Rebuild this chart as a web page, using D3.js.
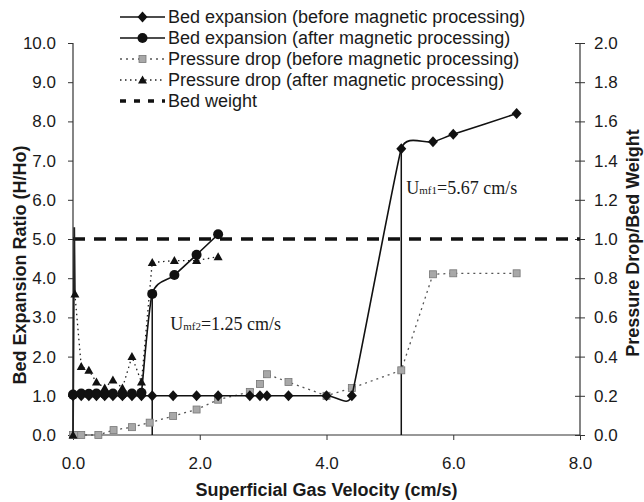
<!DOCTYPE html>
<html><head><meta charset="utf-8">
<script src="https://cdn.jsdelivr.net/npm/d3@7/dist/d3.min.js"></script>
<style>
body{margin:0;background:#fff}
svg text{font-family:Arial,"Liberation Sans",sans-serif;fill:#1a1a1a}
</style>
</head><body>
<svg id="chart" width="644" height="502"></svg>
<script>
// ---- data ----
const xTicks = [0, 2, 4, 6, 8];
const leftTicks = [0,1,2,3,4,5,6,7,8,9,10];
const rightTicks = [0,0.2,0.4,0.6,0.8,1.0,1.2,1.4,1.6,1.8,2.0];

const bedBeforeVel = [0,0.13,0.25,0.37,0.5,0.63,0.78,0.93,1.08,1.25,1.58,1.95,2.29,2.79,2.95,3.06,3.4,4.0,4.4,5.18,5.68,6.0,7.0];
const bedBefore    = [1.0,1.0,1.0,1.0,1.0,1.0,1.0,1.0,1.0,1.0,1.0,1.0,1.0,1.0,1.0,1.0,1.0,1.0,1.0,7.3,7.48,7.67,8.2];

const bedAfterVel = [0,0.13,0.25,0.37,0.5,0.63,0.78,0.93,1.08,1.25,1.6,1.95,2.29];
const bedAfter    = [1.03,1.06,1.05,1.06,1.05,1.06,1.05,1.06,1.08,3.6,4.08,4.6,5.12];

const dpBeforeVel = [0,0.05,0.13,0.4,0.64,0.93,1.21,1.58,1.95,2.29,2.79,2.95,3.06,3.4,4.0,4.4,5.18,5.68,6.0,7.0];
const dpBefore    = [0,0,0,0,0.025,0.04,0.063,0.097,0.13,0.18,0.22,0.26,0.31,0.27,0.2,0.24,0.33,0.82,0.825,0.825];

const dpAfterVel = [0,0.02,0.03,0.13,0.25,0.37,0.5,0.63,0.78,0.93,1.08,1.25,1.6,1.95,2.29];
const dpAfter    = [0,1.06,0.72,0.35,0.33,0.27,0.24,0.28,0.24,0.40,0.27,0.88,0.89,0.89,0.91];

const bedWeight = 1.0;
const umfVel  = [1.25, 5.18];
const umfTop  = [3.6, 7.3];
const umfSub  = ["mf2", "mf1"];
const umfText = ["=1.25 cm/s", "=5.67 cm/s"];

const legendLabels = [
  "Bed expansion (before magnetic processing)",
  "Bed expansion (after magnetic processing)",
  "Pressure drop (before magnetic processing)",
  "Pressure drop (after magnetic processing)",
  "Bed weight"
];

// ---- spreadsheet-style smoothed curve (Bezier, arms capped at half the adjacent segment) ----
function curveSheetSmooth(context) {
  let pts = [];
  return {
    areaStart() {}, areaEnd() {},
    lineStart() { pts = []; },
    point(x, y) { pts.push([+x, +y]); },
    lineEnd() {
      const p = pts, n = p.length;
      if (!n) return;
      context.moveTo(p[0][0], p[0][1]);
      const dist = (a, b) => Math.hypot(b[0] - a[0], b[1] - a[1]);
      const arm = i => {
        const a = p[Math.max(i - 1, 0)], c = p[Math.min(i + 1, n - 1)];
        const dx = c[0] - a[0], dy = c[1] - a[1], d = Math.hypot(dx, dy);
        if (d === 0) return [0, 0];
        let len = d / 6;
        if (i > 0) len = Math.min(len, dist(p[i - 1], p[i]) / 2);
        if (i < n - 1) len = Math.min(len, dist(p[i], p[i + 1]) / 2);
        return [dx / d * len, dy / d * len];
      };
      for (let i = 0; i < n - 1; i++) {
        const t0 = arm(i), t1 = arm(i + 1);
        context.bezierCurveTo(p[i][0] + t0[0], p[i][1] + t0[1],
          p[i + 1][0] - t1[0], p[i + 1][1] - t1[1], p[i + 1][0], p[i + 1][1]);
      }
    }
  };
}

// ---- layout ----
const svg = d3.select("#chart");
const L = 73, R = 580, T = 43, B = 435;
const x = d3.scaleLinear().domain([0, 8]).range([L, R]);
const yL = d3.scaleLinear().domain([0, 10]).range([B, T]);
const yR = d3.scaleLinear().domain([0, 2]).range([B, T]);
const axisColor = "#333";

// axes
const gx = svg.append("g").attr("transform", `translate(0,${B})`)
  .call(d3.axisBottom(x).tickValues(xTicks).tickFormat(d3.format(".1f")).tickSize(5).tickPadding(17));
const gl = svg.append("g").attr("transform", `translate(${L},0)`)
  .call(d3.axisLeft(yL).tickValues(leftTicks).tickFormat(d3.format(".1f")).tickSize(5).tickPadding(12));
const gr = svg.append("g").attr("transform", `translate(${R},0)`)
  .call(d3.axisRight(yR).tickValues(rightTicks).tickFormat(d3.format(".1f")).tickSize(5).tickPadding(9));
gr.selectAll(".tick line").attr("x1", -5);
[gx, gl, gr].forEach(g => {
  g.select(".domain").attr("stroke", axisColor).attr("stroke-width", 1.2);
  g.selectAll(".tick line").attr("stroke", axisColor);
  g.selectAll(".tick text").style("font-size", "17px").attr("fill", "#1a1a1a");
});
gx.select(".domain").attr("d", `M${L},0H${R}`);
gl.select(".domain").attr("d", `M0,${T}V${B}`);
gr.select(".domain").attr("d", `M0,${T}V${B}`);

// axis titles
svg.append("text").attr("x", x(4)).attr("y", 496).attr("text-anchor", "middle")
  .style("font-size", "18px").style("font-weight", "bold").text("Superficial Gas Velocity (cm/s)");
svg.append("text").attr("transform", `translate(26,${(T+B)/2+26}) rotate(-90)`).attr("text-anchor", "middle")
  .style("font-size", "18px").style("font-weight", "bold").text("Bed Expansion Ratio (H/Ho)");
svg.append("text").attr("transform", `translate(639,${(T+B)/2+4}) rotate(-90)`).attr("text-anchor", "middle")
  .style("font-size", "18px").style("font-weight", "bold").text("Pressure Drop/Bed Weight");

// bed weight line
svg.append("line").attr("x1", x(0)).attr("x2", x(8)).attr("y1", yR(bedWeight)).attr("y2", yR(bedWeight))
  .attr("stroke", "#111").attr("stroke-width", 3.5).attr("stroke-dasharray", "12,9");

// Umf vertical lines
umfVel.forEach((v, i) => {
  svg.append("line").attr("x1", x(v)).attr("x2", x(v)).attr("y1", yL(0)).attr("y2", yL(umfTop[i]))
    .attr("stroke", "#111").attr("stroke-width", 1.5);
});

// series helpers
const ptsL = (vx, vy) => vx.map((v, i) => [x(v), yL(vy[i])]);
const ptsR = (vx, vy) => vx.map((v, i) => [x(v), yR(vy[i])]);
const smooth = d3.line().curve(curveSheetSmooth);
const straight = d3.line();

const diamond = "M0,-5.5L5,0L0,5.5L-5,0Z";
const triangle = "M0,-4.5L4.5,3.5L-4.5,3.5Z";

// pressure drop before (squares)
const pB = ptsR(dpBeforeVel, dpBefore);
svg.append("path").attr("d", straight(pB)).attr("fill", "none").attr("stroke", "#555")
  .attr("stroke-width", 1.3).attr("stroke-dasharray", "2,4");
svg.append("g").selectAll("rect").data(pB).join("rect")
  .attr("x", d => d[0] - 3.5).attr("y", d => d[1] - 3.5).attr("width", 7).attr("height", 7)
  .attr("fill", "#a8a8a8").attr("stroke", "#777").attr("stroke-width", 0.8);

// pressure drop after (triangles)
const pA = ptsR(dpAfterVel, dpAfter);
svg.append("path").attr("d", straight(pA.slice(0, 3))).attr("fill", "none").attr("stroke", "#222")
  .attr("stroke-width", 1.8);
svg.append("path").attr("d", straight(pA.slice(2))).attr("fill", "none").attr("stroke", "#222")
  .attr("stroke-width", 1.3).attr("stroke-dasharray", "1.5,3.5");
svg.append("g").selectAll("path").data(pA.filter((d, i) => i !== 1)).join("path")
  .attr("transform", d => `translate(${d[0]},${d[1]})`).attr("d", triangle).attr("fill", "#111");

// bed expansion before (diamonds)
const bBp = ptsL(bedBeforeVel, bedBefore);
svg.append("path").attr("d", smooth(bBp)).attr("fill", "none").attr("stroke", "#111").attr("stroke-width", 1.6);
svg.append("g").selectAll("path").data(bBp).join("path")
  .attr("transform", d => `translate(${d[0]},${d[1]})`).attr("d", diamond).attr("fill", "#111");

// bed expansion after (circles)
const bAp = ptsL(bedAfterVel, bedAfter);
svg.append("path").attr("d", smooth(bAp)).attr("fill", "none").attr("stroke", "#111").attr("stroke-width", 1.6);
svg.append("g").selectAll("circle").data(bAp).join("circle")
  .attr("cx", d => d[0]).attr("cy", d => d[1]).attr("r", 5).attr("fill", "#111");

// annotations
umfVel.forEach((v, i) => {
  const t = svg.append("text").attr("x", x(v) + (i === 0 ? 18 : 5)).attr("y", i === 0 ? 330 : 194)
    .style("font-family", "'Liberation Serif','Times New Roman',serif").style("font-size", "18px");
  t.append("tspan").text("U");
  t.append("tspan").style("font-size", "11px").text(umfSub[i]);
  t.append("tspan").text(umfText[i]);
});

// legend
const lgX0 = 120, lgX1 = 165, lgY0 = 17, lgDy = 21;
legendLabels.forEach((lab, i) => {
  const y = lgY0 + i * lgDy;
  const g = svg.append("g");
  const ln = g.append("line").attr("x1", lgX0).attr("x2", lgX1).attr("y1", y).attr("y2", y);
  const cx = (lgX0 + lgX1) / 2;
  if (i === 0) { ln.attr("stroke", "#111").attr("stroke-width", 1.6);
    g.append("path").attr("transform", `translate(${cx},${y})`).attr("d", diamond).attr("fill", "#111"); }
  if (i === 1) { ln.attr("stroke", "#111").attr("stroke-width", 1.6);
    g.append("circle").attr("cx", cx).attr("cy", y).attr("r", 5).attr("fill", "#111"); }
  if (i === 2) { ln.attr("stroke", "#555").attr("stroke-width", 1.3).attr("stroke-dasharray", "2,4");
    g.append("rect").attr("x", cx - 3.5).attr("y", y - 3.5).attr("width", 7).attr("height", 7)
      .attr("fill", "#a8a8a8").attr("stroke", "#777").attr("stroke-width", 0.8); }
  if (i === 3) { ln.attr("stroke", "#222").attr("stroke-width", 1.3).attr("stroke-dasharray", "1.5,3.5");
    g.append("path").attr("transform", `translate(${cx},${y})`).attr("d", triangle).attr("fill", "#111"); }
  if (i === 4) { ln.attr("stroke", "#111").attr("stroke-width", 3.5).attr("stroke-dasharray", "6,8"); }
  g.append("text").attr("x", lgX1 + 3).attr("y", y + 6).style("font-size", "18px").text(lab);
});
</script>
</body></html>
